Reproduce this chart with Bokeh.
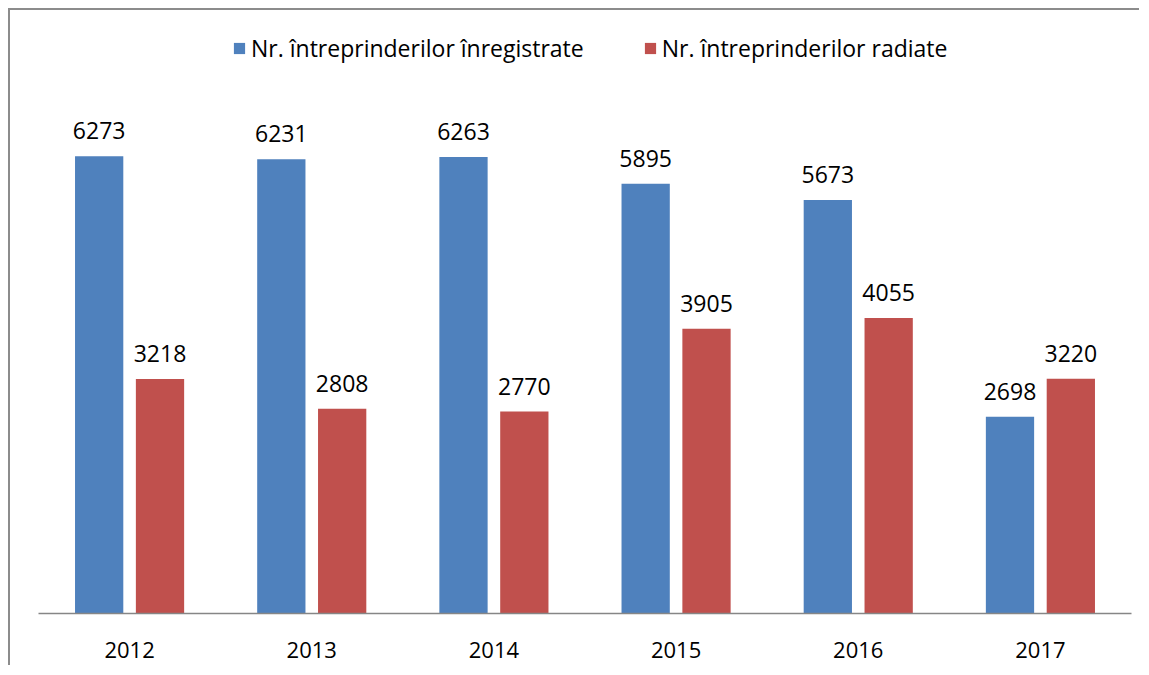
from bokeh.plotting import figure
from bokeh.models import ColumnDataSource, FactorRange, Range1d, Legend, LegendItem, LabelSet
from bokeh.transform import dodge
from bokeh.core.properties import value
from bokeh.embed import file_html
from bokeh.resources import INLINE

years = ["2012", "2013", "2014", "2015", "2016", "2017"]
registered = [6273, 6231, 6263, 5895, 5673, 2698]
deregistered = [3218, 2808, 2770, 3905, 4055, 3220]
series_names = ["Nr. întreprinderilor înregistrate", "Nr. întreprinderilor radiate"]

BLUE = "#4F81BD"
RED = "#C0504D"
FONT = "Open Sans"
FS = "23px"

src = ColumnDataSource(dict(
    year=years,
    reg=registered,
    dereg=deregistered,
    reg_txt=[str(v) for v in registered],
    dereg_txt=[str(v) for v in deregistered],
))

p = figure(
    x_range=FactorRange(*years, range_padding=0),
    y_range=Range1d(0, 8272),
    width=1131, height=657,
    output_backend="svg", toolbar_location=None,
    min_border_left=28, min_border_right=10, min_border_top=0, min_border_bottom=54,
)
p.styles = {"border-left": "2px solid #8c8c8c", "border-top": "2px solid #8c8c8c",
            "margin-left": "8px", "margin-top": "8px"}
p.outline_line_color = None
p.xgrid.grid_line_color = None
p.ygrid.grid_line_color = None
p.yaxis.visible = False
p.xaxis.axis_line_color = "#868686"
p.xaxis.axis_line_width = 1.5
p.xaxis.major_tick_line_color = None
p.xaxis.minor_tick_line_color = None
p.xaxis.major_label_text_font = FONT
p.xaxis.major_label_text_font_size = "22px"
p.xaxis.major_label_text_color = "black"
p.xaxis.major_label_standoff = 22

r1 = p.vbar(x=dodge("year", -0.167, range=p.x_range), top="reg", width=0.265,
            source=src, fill_color=BLUE, line_color=None)
r2 = p.vbar(x=dodge("year", 0.167, range=p.x_range), top="dereg", width=0.265,
            source=src, fill_color=RED, line_color=None)

for col, txt, off in (("reg", "reg_txt", -0.167), ("dereg", "dereg_txt", 0.167)):
    lbl = LabelSet(x=dodge("year", off, range=p.x_range), y=col, text=txt, source=src,
                   text_align="center", text_baseline="bottom", y_offset=17,
                   text_font=value(FONT), text_font_size=value(FS), text_color="black")
    p.add_layout(lbl)

legend = Legend(items=[LegendItem(label=series_names[0], renderers=[r1]),
                       LegendItem(label=series_names[1], renderers=[r2])],
                orientation="horizontal", location=(194, 549),
                glyph_width=14, glyph_height=14, label_standoff=5, spacing=59,
                padding=0, margin=0, border_line_color=None, background_fill_alpha=0,
                label_text_font=FONT, label_text_font_size=FS, label_text_color="black")
p.add_layout(legend)

open("out.html", "w").write(file_html(p, INLINE))
